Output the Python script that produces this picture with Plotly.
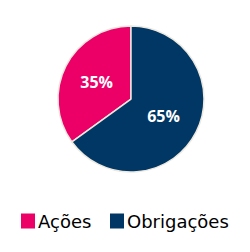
import plotly.graph_objects as go

categories = ["Ações", "Obrigações"]
values = [35, 65]
colors = ["#EC0068", "#003764"]

W, H = 250, 252

fig = go.Figure(go.Pie(
    labels=categories,
    values=values,
    sort=False,
    direction="clockwise",
    rotation=-126,
    marker=dict(colors=colors, line=dict(color="#EEE9DF", width=1.5)),
    textinfo="percent",
    texttemplate="%{percent:.0%}",
    textposition="inside",
    insidetextorientation="horizontal",
    textfont=dict(family="Open Sans", size=16, color="white", weight="bold"),
    hoverinfo="none",
    domain=dict(x=[0.232, 0.816], y=[0.317, 0.897]),
    showlegend=False,
))

# custom legend (square swatch + label), positions in pixels
legend_sq_x = [21, 110]
legend_txt_x = [36, 125]
legend_y = 221
sq_w, sq_h = 14, 15
for cat, col, sx, tx in zip(categories, colors, legend_sq_x, legend_txt_x):
    fig.add_shape(type="rect", xref="paper", yref="paper",
                  x0=sx / W, x1=(sx + sq_w) / W,
                  y0=(H - legend_y - sq_h / 2) / H, y1=(H - legend_y + sq_h / 2) / H,
                  fillcolor=col, line=dict(width=0))
    fig.add_annotation(text=cat, xref="paper", yref="paper",
                       x=tx / W, y=(H - legend_y) / H,
                       xanchor="left", yanchor="middle", showarrow=False,
                       font=dict(family="DejaVu Sans", size=18, color="black"))

fig.update_layout(
    width=W, height=H,
    margin=dict(l=0, r=0, t=0, b=0),
    paper_bgcolor="white",
    plot_bgcolor="white",
    showlegend=False,
)

fig.write_html("out.html")
